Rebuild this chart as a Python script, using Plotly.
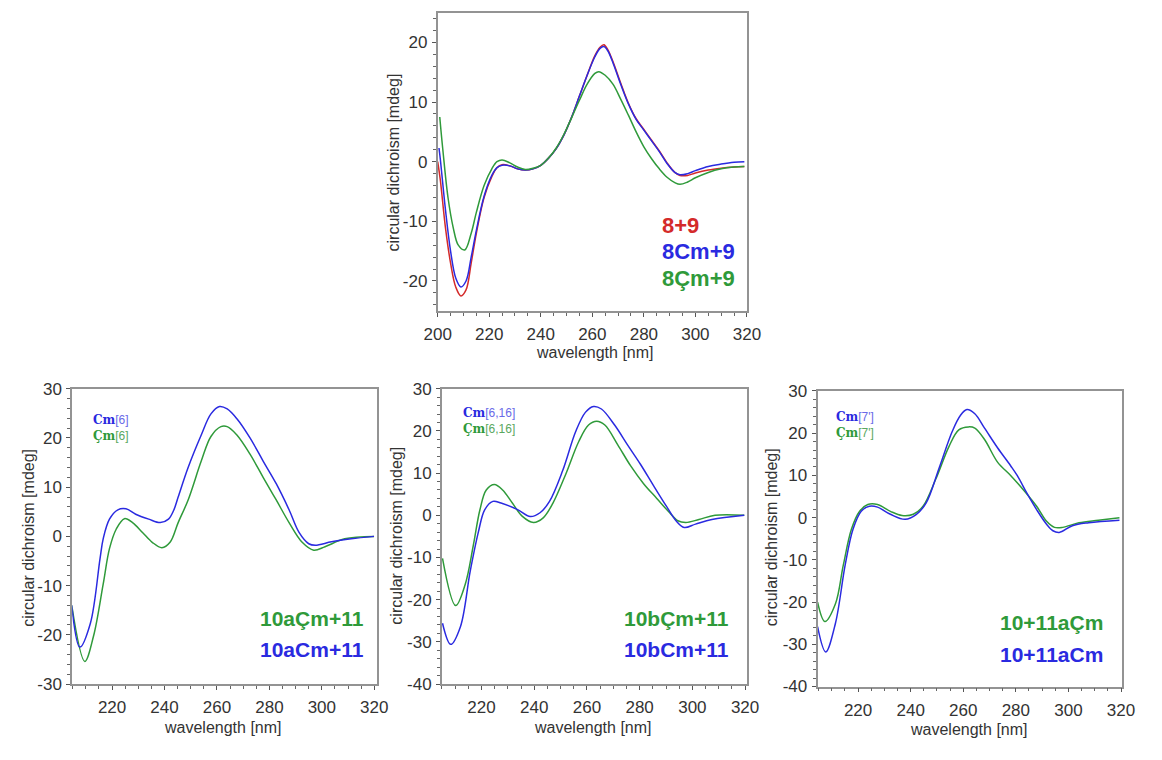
import plotly.graph_objects as go

# The page shows the figure inside an 8 px body margin; size it to fill exactly.
PAGE_W, PAGE_H = 1162, 760
OFF = 8
W, H = PAGE_W - 2 * OFF, PAGE_H - 2 * OFF

# ---------------- data ----------------
# Top panel: 8+9, 8Cm+9, 8Çm+9
top_red_x = [200, 201, 203, 205, 207, 209, 211, 213, 215, 218, 221, 223, 225, 228, 231, 234, 237, 240, 243, 246, 249, 252, 255, 258, 261, 263, 264.5, 266, 268, 271, 274, 277, 280, 283, 286, 289, 292, 294, 297, 300, 305, 310, 315, 319]
top_red_y = [0, -3, -11, -17, -21, -22.5, -21.5, -17, -12, -6, -2.5, -1, -0.5, -0.7, -1.2, -1.4, -1.2, -0.6, 0.6, 2.2, 4.5, 7.5, 11, 14.5, 17.8, 19.2, 19.6, 18.8, 16.8, 13.2, 9.8, 7.2, 5.4, 3.6, 1.8, -0.2, -1.8, -2.3, -2.3, -1.9, -1.4, -1.1, -0.9, -0.8]

top_blue_x = [200.5, 201, 203, 205, 207, 209, 211, 213, 215, 218, 221, 223, 225, 228, 231, 234, 237, 240, 243, 246, 249, 252, 255, 258, 261, 263, 264.5, 266, 268, 271, 274, 277, 280, 283, 286, 289, 292, 294, 297, 300, 305, 310, 315, 319]
top_blue_y = [2.3, 0.5, -8, -15, -19.5, -21, -20, -16, -11.5, -5.8, -2.3, -1, -0.6, -0.7, -1.2, -1.4, -1.2, -0.6, 0.6, 2.2, 4.5, 7.5, 11, 14.5, 17.6, 19, 19.3, 18.6, 16.6, 13, 9.7, 7.1, 5.3, 3.5, 1.7, -0.3, -1.8, -2.2, -2.0, -1.5, -0.8, -0.4, -0.1, 0]

top_green_x = [200.8, 202, 204, 206, 208, 210.5, 213, 215, 218, 221, 223, 225, 228, 231, 234, 237, 240, 243, 246, 249, 252, 255, 258, 261, 262.5, 265, 268, 271, 274, 277, 280, 283, 286, 289, 292, 294, 297, 300, 305, 310, 315, 319]
top_green_y = [7.5, 2, -6, -11, -14, -14.8, -12, -8.5, -4, -1.2, 0, 0.3, -0.2, -0.9, -1.3, -1.1, -0.6, 0.6, 2.3, 4.6, 7.4, 10.3, 13, 14.8, 15.1, 14.5, 13, 10.5, 7.8, 5, 2.5, 0.5, -1.2, -2.6, -3.5, -3.8, -3.4, -2.7, -1.8, -1.2, -0.9, -0.8]

# Bottom-left panel: 10aCm+11 (blue), 10aÇm+11 (green)
bl_blue_x = [204.6, 207.7, 211.7, 215.4, 216.6, 219, 222.2, 225.3, 229, 234, 238.4, 241.5, 243.5, 245.2, 249, 254, 257.7, 261, 263.9, 267.6, 272.6, 277.6, 282.6, 287.5, 291.3, 295, 297.5, 303.7, 311.2, 319.9]
bl_blue_y = [-14, -22.5, -17.7, -4.5, -0.5, 3.5, 5.4, 5.6, 4.5, 3.5, 2.8, 3.5, 5.3, 8, 14, 20.6, 24.9, 26.4, 25.9, 23.9, 20, 15.3, 10.7, 5.4, 0.8, -1.5, -1.8, -1.1, -0.5, 0]
bl_green_x = [204.6, 209.6, 212.9, 216.6, 219, 221.6, 224.7, 227.8, 231.6, 235.3, 239, 242.1, 245.2, 249, 254, 257.7, 261.5, 263.9, 267.6, 272.6, 277.6, 282.6, 287.5, 292.5, 296.9, 301.2, 308.7, 319.9]
bl_green_y = [-14, -25.4, -20.3, -9.7, -2.5, 1.5, 3.6, 2.8, 0.8, -1.2, -2.3, -1.2, 2.8, 7.4, 15.3, 20.3, 22.3, 22.3, 20.6, 16.7, 12, 7.4, 2.8, -1.2, -2.8, -2.1, -0.5, 0]

# Bottom-middle panel: 10bCm+11 (blue), 10bÇm+11 (green)
bm_blue_x = [205.2, 208.3, 212, 215.7, 218.8, 221.2, 224.3, 227.4, 233.5, 238.5, 242.2, 245.8, 250.8, 255.7, 259.4, 262.5, 265.5, 270.5, 275.4, 280.3, 285.2, 290.2, 293.8, 296.9, 301.2, 307.4, 319.7]
bm_blue_y = [-25.6, -30.6, -26.4, -13.3, -4, 1.3, 3.3, 2.9, 1.4, -0.3, 0.6, 3.3, 10.6, 19.8, 24.4, 25.8, 25.2, 21.4, 16.7, 12.1, 7.1, 2.1, -1.3, -2.9, -2.1, -1, 0]
bm_green_x = [205.2, 210.2, 213.8, 216.9, 219.4, 221.8, 224.9, 228, 231.7, 235.4, 239.7, 243.4, 247.1, 252, 256.9, 260.6, 263.7, 266.8, 271.7, 276.6, 281.5, 286.5, 291.4, 294.5, 297.5, 302.5, 308.6, 319.7]
bm_green_y = [-10.2, -21.4, -16.4, -7.1, 1.3, 6, 7.3, 6, 2.9, -0.2, -1.7, -0.6, 2.9, 9.8, 17.5, 21.4, 22.3, 21.4, 16.7, 11.7, 7.5, 4, 0.6, -1.3, -1.7, -1, 0, 0]

# Bottom-right panel: 10+11aCm (blue), 10+11aÇm (green)
br_blue_x = [204.6, 207.7, 211.4, 215.1, 218.1, 221.2, 224.3, 227.4, 232.3, 237.9, 242.2, 245.9, 250.9, 255.8, 258.9, 261.4, 264.4, 268.1, 273.1, 278, 280.5, 284.2, 287.9, 291.6, 294.1, 296.5, 301.5, 307.7, 319.4]
br_blue_y = [-25.8, -31.8, -25, -11.2, -2.7, 1.5, 2.7, 2.5, 0.8, -0.4, 0.8, 3.5, 11.9, 20.4, 24.2, 25.6, 24.6, 21.2, 16.5, 12.3, 10, 5.8, 1.9, -1.5, -3.1, -3.5, -1.9, -1.2, -0.6]
br_green_x = [204.6, 207.4, 211.4, 214.4, 217.5, 220.6, 223.7, 227.4, 232.3, 236.7, 241, 244.7, 249.6, 254.6, 258.3, 262, 264.4, 268.1, 273.1, 278, 283, 287.9, 291.6, 294.7, 297.8, 304, 311.4, 319.4]
br_green_y = [-20, -24.6, -20.4, -11.2, -2.7, 1.5, 3.1, 3.1, 1.5, 0.5, 0.8, 2.7, 9.2, 16.9, 20.8, 21.5, 21.2, 18.5, 13.1, 10, 6.5, 2.7, -0.8, -2.3, -2.3, -1.2, -0.6, 0]

x_ticks = [200, 220, 240, 260, 280, 300, 320]
x_tick_labels = ["200", "220", "240", "260", "280", "300", "320"]
top_y_ticks = [-20, -10, 0, 10, 20]
top_y_labels = ["-20", "-10", "0", "10", "20"]
bl_y_ticks = [-30, -20, -10, 0, 10, 20, 30]
bl_y_labels = ["-30", "-20", "-10", "0", "10", "20", "30"]
b_y_ticks = [-40, -30, -20, -10, 0, 10, 20, 30]
b_y_labels = ["-40", "-30", "-20", "-10", "0", "10", "20", "30"]

# ---------------- styles ----------------
RED = "#d42a2a"
BLUE = "#2a2ae0"
GREEN = "#2f9a3a"
FONT = "Liberation Sans, Arial, sans-serif"
FRAME = "#939393"
TXT = "#333333"


def px_x(p):
    return (p - OFF) / W


def px_y(p):
    return 1 - (p - OFF) / H


fig = go.Figure()

panels = [
    ("", (442.3, 759.3), (11.7, 317.7), [200, 320], [-25, 25], top_y_ticks, top_y_labels,
     [(top_red_x, top_red_y, RED), (top_blue_x, top_blue_y, BLUE), (top_green_x, top_green_y, GREEN)]),
    ("2", (67.7, 380.0), (397.7, 700.7), [204.8, 321], [-30, 30], bl_y_ticks, bl_y_labels,
     [(bl_green_x, bl_green_y, GREEN), (bl_blue_x, bl_blue_y, BLUE)]),
    ("3", (446.7, 759.0), (397.7, 700.7), [205, 320.6], [-40, 30], b_y_ticks, b_y_labels,
     [(bm_green_x, bm_green_y, GREEN), (bm_blue_x, bm_blue_y, BLUE)]),
    ("4", (831.7, 1143.3), (400.0, 703.3), [204.6, 320.2], [-40, 30], b_y_ticks, b_y_labels,
     [(br_green_x, br_green_y, GREEN), (br_blue_x, br_blue_y, BLUE)]),
]

layout_axes = {}
for suf, (x0, x1), (yt, yb), xr, yr, yticks, ylabels, curves in panels:
    xa = "x" + suf
    ya = "y" + suf
    for cx, cy, col in curves:
        fig.add_trace(go.Scatter(x=cx, y=cy, mode="lines", xaxis=xa, yaxis=ya,
                                 line=dict(color=col, width=1.5, shape="spline", smoothing=1.0),
                                 showlegend=False, hoverinfo="skip"))
    common = dict(showline=True, linecolor=FRAME, linewidth=1.8, mirror=True,
                  showgrid=False, zeroline=False, ticks="outside", ticklen=4,
                  tickcolor="#555", tickwidth=1,
                  tickfont=dict(family=FONT, size=17, color=TXT))
    layout_axes["xaxis" + suf] = dict(
        common, domain=[px_x(x0), px_x(x1)], range=xr, anchor=ya,
        tickmode="array", tickvals=x_ticks, ticktext=x_tick_labels, ticklabelstandoff=3,
        minor=dict(ticks="outside", ticklen=3, dtick=5, tick0=200, tickcolor="#666"))
    layout_axes["yaxis" + suf] = dict(
        common, domain=[px_y(yb), px_y(yt)], range=yr, anchor=xa,
        tickmode="array", tickvals=yticks, ticktext=ylabels, ticklabelstandoff=1,
        minor=dict(ticks="outside", ticklen=3, dtick=2, tick0=0, tickcolor="#666"))

fig.update_layout(**layout_axes)

# ---------------- annotations ----------------
ann = []


def text_at(x, y, text, color, size, angle=0, anchor="center"):
    ann.append(dict(xref="paper", yref="paper", x=px_x(x), y=px_y(y), text=text,
                    showarrow=False, xanchor=anchor, yanchor="middle", textangle=angle,
                    font=dict(family=FONT, size=size, color=color)))


# axis titles
YT = "circular dichroism [mdeg]"
XT = "wavelength [nm]"
text_at(397, 165, YT, TXT, 16, -90)
text_at(604, 360, XT, TXT, 16)
text_at(22, 551, YT, TXT, 16, -90)
text_at(222, 745, XT, TXT, 16)
text_at(400, 548, YT, TXT, 16, -90)
text_at(602, 745, XT, TXT, 16)
text_at(784, 550, YT, TXT, 16, -90)
text_at(987, 747, XT, TXT, 16)

# top legend
text_at(670, 230, "<b>8+9</b>", RED, 22, anchor="left")
text_at(670, 256.5, "<b>8Cm+9</b>", BLUE, 22, anchor="left")
text_at(670, 285, "<b>8Çm+9</b>", GREEN, 22, anchor="left")
# bottom legends
text_at(258, 633, "<b>10aÇm+11</b>", GREEN, 21, anchor="left")
text_at(258, 665, "<b>10aCm+11</b>", BLUE, 21, anchor="left")
text_at(631, 633, "<b>10bÇm+11</b>", GREEN, 21, anchor="left")
text_at(631, 665, "<b>10bCm+11</b>", BLUE, 21, anchor="left")
text_at(1017, 638, "<b>10+11aÇm</b>", GREEN, 21, anchor="left")
text_at(1017, 670, "<b>10+11aCm</b>", BLUE, 21, anchor="left")


def small(x, y, head, tail, color, tailcolor):
    txt = ('<span style="font-family:DejaVu Serif;font-weight:bold">%s</span>'
           '<span style="color:%s">%s</span>') % (head, tailcolor, tail)
    text_at(x, y, txt, color, 12, anchor="left")


small(87, 430, "Cm", "[6]", BLUE, "#6a6ae8")
small(87, 446, "Çm", "[6]", GREEN, "#5aa85f")
small(466, 423, "Cm", "[6,16]", BLUE, "#6a6ae8")
small(466, 438.5, "Çm", "[6,16]", GREEN, "#5aa85f")
small(849, 427, "Cm", "[7']", BLUE, "#6a6ae8")
small(849, 443, "Çm", "[7']", GREEN, "#5aa85f")

fig.update_layout(width=W, height=H, margin=dict(l=0, r=0, t=0, b=0),
                  paper_bgcolor="white", plot_bgcolor="white",
                  annotations=ann, showlegend=False)

fig.write_html("out.html")
